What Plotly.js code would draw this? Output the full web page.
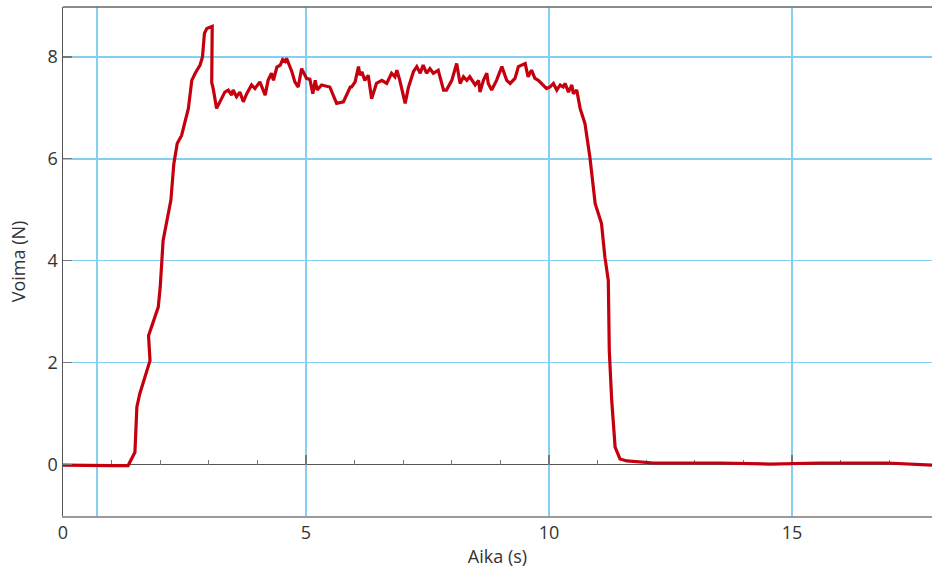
<!DOCTYPE html>
<html>
<head>
<meta charset="utf-8">
<script src="https://cdn.plot.ly/plotly-3.0.1.min.js"></script>
<style>html,body{margin:0;padding:0;background:#fff;}#chart{width:932px;height:572px;}</style>
</head>
<body>
<div id="chart"></div>
<script>
// Time (s)
const aika = [
  0, 0.5, 1.0, 1.34, 1.48, 1.52, 1.58, 1.79, 1.76, 1.96, 2.00, 2.06, 2.13, 2.22,
  2.28, 2.35, 2.44, 2.58, 2.65, 2.72, 2.82, 2.87, 2.91, 2.96, 3.07, 3.06, 3.09, 3.16,
  3.33, 3.40, 3.47, 3.50, 3.57, 3.64, 3.71, 3.78, 3.88, 3.95, 4.05, 4.16, 4.22, 4.29,
  4.33, 4.40, 4.47, 4.52, 4.57, 4.60, 4.71, 4.77, 4.84, 4.91, 5.01, 5.08, 5.14, 5.19,
  5.23, 5.32, 5.49, 5.63, 5.77, 5.91, 5.94, 6.01, 6.08, 6.11, 6.15, 6.21, 6.28, 6.35,
  6.45, 6.56, 6.66, 6.76, 6.83, 6.87, 6.93, 7.04, 7.11, 7.21, 7.28, 7.35, 7.41, 7.48,
  7.55, 7.62, 7.72, 7.83, 7.89, 8.00, 8.10, 8.17, 8.24, 8.31, 8.37, 8.48, 8.55, 8.58,
  8.65, 8.72, 8.75, 8.82, 8.92, 9.03, 9.13, 9.20, 9.30, 9.37, 9.51, 9.57, 9.64, 9.71,
  9.78, 9.88, 9.95, 10.02, 10.09, 10.16, 10.23, 10.29, 10.33, 10.40, 10.47, 10.50, 10.57,
  10.64, 10.74, 10.84, 10.95, 11.08, 11.15, 11.22, 11.24, 11.29, 11.36, 11.46, 11.60,
  12.15, 13.52, 14.55, 15.58, 16.95, 17.88
];
// Force (N)
const voima = [
  -0.01, -0.02, -0.02, -0.02, 0.24, 1.13, 1.39, 2.04, 2.53, 3.09, 3.48, 4.40, 4.73, 5.19,
  5.90, 6.30, 6.46, 6.99, 7.54, 7.68, 7.84, 8.00, 8.46, 8.56, 8.60, 7.50, 7.38, 6.99,
  7.31, 7.35, 7.25, 7.35, 7.22, 7.31, 7.12, 7.28, 7.45, 7.38, 7.51, 7.25, 7.54, 7.68,
  7.54, 7.80, 7.84, 7.95, 7.91, 7.97, 7.71, 7.51, 7.41, 7.77, 7.58, 7.56, 7.28, 7.54,
  7.35, 7.45, 7.41, 7.09, 7.12, 7.41, 7.41, 7.51, 7.81, 7.64, 7.71, 7.54, 7.64, 7.18,
  7.48, 7.54, 7.48, 7.68, 7.61, 7.74, 7.54, 7.09, 7.41, 7.71, 7.81, 7.68, 7.84, 7.68,
  7.77, 7.68, 7.74, 7.35, 7.35, 7.54, 7.87, 7.48, 7.61, 7.54, 7.61, 7.45, 7.54, 7.31,
  7.54, 7.68, 7.48, 7.35, 7.54, 7.81, 7.54, 7.48, 7.58, 7.81, 7.87, 7.61, 7.74, 7.58,
  7.54, 7.45, 7.38, 7.41, 7.48, 7.35, 7.45, 7.41, 7.48, 7.31, 7.45, 7.28, 7.35,
  6.99, 6.69, 6.04, 5.12, 4.73, 4.07, 3.61, 2.24, 1.26, 0.34, 0.11, 0.07,
  0.03, 0.03, 0.01, 0.03, 0.03, -0.01
];
const xTickVals = [0, 0.7, 5, 10, 15];
const xTickText = ['0', '', '5', '10', '15'];
const yTickVals = [0, 2, 4, 6, 8];
const yTickText = ['0', '2', '4', '6', '8'];
const xRange = [0, 17.88];
const yRange = [-1.01, 8.98];

const font = {family: 'Open Sans, Noto Sans, sans-serif', size: 18, color: '#333'};
const gridBlue = '#86cff0';

const traces = [
  {x: xRange, y: [0, 0], xaxis: 'x', yaxis: 'y', mode: 'markers',
   marker: {opacity: 0}, hoverinfo: 'skip', showlegend: false},
  {x: aika, y: voima, xaxis: 'x2', yaxis: 'y', mode: 'lines',
   line: {color: '#c4000e', width: 3.2}, showlegend: false}
];

const zeroPos = (0 - yRange[0]) / (yRange[1] - yRange[0]);

const layout = {
  width: 932, height: 572,
  margin: {l: 63, r: 0, t: 7, b: 56},
  paper_bgcolor: '#fff', plot_bgcolor: '#fff',
  font: font,
  showlegend: false,
  xaxis: {
    range: xRange, tickvals: xTickVals, ticktext: xTickText,
    showgrid: true, gridcolor: gridBlue, gridwidth: 1.5,
    zeroline: false, showline: true, linecolor: '#9a9a9a', linewidth: 1.5,
    ticks: '', tickfont: {size: 18, color: '#333'},
    title: {text: 'Aika (s)', font: {size: 18, color: '#333'}, standoff: 7}
  },
  xaxis2: {
    range: xRange, overlaying: 'x', anchor: 'free', position: zeroPos,
    side: 'bottom', showgrid: false, zeroline: false, showline: false,
    showticklabels: false, ticks: 'inside', tick0: 0, dtick: 5, ticklen: 10,
    tickcolor: '#777', tickwidth: 1.2, layer: 'below traces',
    minor: {dtick: 1, ticks: 'inside', ticklen: 5, tickcolor: '#777', tickwidth: 1.2}
  },
  yaxis: {
    range: yRange, tickvals: yTickVals, ticktext: yTickText,
    showgrid: true, gridcolor: gridBlue, gridwidth: 1.5,
    zeroline: true, zerolinecolor: '#555', zerolinewidth: 1.5,
    showline: true, linecolor: '#555', linewidth: 1.5,
    ticks: 'inside', ticklen: 9, tickcolor: '#777', tickwidth: 1.2,
    tickfont: {size: 18, color: '#333'},
    title: {text: 'Voima (N)', font: {size: 18, color: '#333'}, standoff: 17}
  },
  shapes: [
    {type: 'line', xref: 'paper', yref: 'paper', x0: 0, x1: 1, y0: 1, y1: 1,
     line: {color: '#666', width: 1.5}}
  ]
};

Plotly.newPlot('chart', traces, layout, {displayModeBar: false, staticPlot: true});
</script>
</body>
</html>
